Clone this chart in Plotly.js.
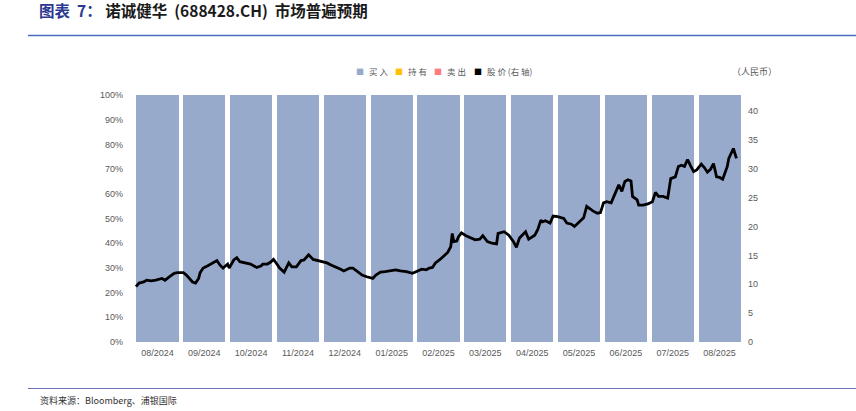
<!DOCTYPE html>
<html><head><meta charset="utf-8">
<script src="https://cdn.plot.ly/plotly-3.0.1.min.js"></script>
<style>html,body{margin:0;padding:0;background:#fff;}#chart{width:856px;height:411px;}</style>
</head><body><div id="chart"></div>
<script>
// Categories (months) and rating shares
const months = ['08/2024','09/2024','10/2024','11/2024','12/2024','01/2025','02/2025','03/2025','04/2025','05/2025','06/2025','07/2025','08/2025'];
const buyShare  = [1,1,1,1,1,1,1,1,1,1,1,1,1];
const holdShare = [0,0,0,0,0,0,0,0,0,0,0,0,0];
const sellShare = [0,0,0,0,0,0,0,0,0,0,0,0,0];

// Share price (RMB), right axis
const priceDates = ['2024-08-01','2024-08-03','2024-08-06','2024-08-08','2024-08-11','2024-08-14','2024-08-18','2024-08-20','2024-08-23','2024-08-26','2024-08-28',
'2024-09-01','2024-09-03','2024-09-07','2024-09-09','2024-09-11','2024-09-12','2024-09-14','2024-09-17','2024-09-20','2024-09-23','2024-09-25','2024-09-27','2024-09-30',
'2024-10-01','2024-10-04','2024-10-06','2024-10-08','2024-10-11','2024-10-15','2024-10-19','2024-10-22','2024-10-23','2024-10-26','2024-10-28','2024-10-30',
'2024-11-01','2024-11-03','2024-11-06','2024-11-09','2024-11-11','2024-11-14','2024-11-17','2024-11-19','2024-11-21','2024-11-22','2024-11-25','2024-11-28',
'2024-12-01','2024-12-04','2024-12-07','2024-12-11','2024-12-13','2024-12-15','2024-12-17','2024-12-19','2024-12-21','2024-12-24','2024-12-27','2024-12-30',
'2025-01-03','2025-01-05','2025-01-08','2025-01-11','2025-01-14','2025-01-18','2025-01-21','2025-01-25','2025-01-29',
'2025-02-02','2025-02-04','2025-02-07','2025-02-09','2025-02-11','2025-02-13','2025-02-16','2025-02-19','2025-02-21','2025-02-23','2025-02-24','2025-02-25','2025-02-27','2025-02-28',
'2025-03-02','2025-03-05','2025-03-08','2025-03-11','2025-03-14','2025-03-16','2025-03-19','2025-03-22','2025-03-25','2025-03-26','2025-03-30',
'2025-04-02','2025-04-05','2025-04-07','2025-04-09','2025-04-13','2025-04-15','2025-04-19','2025-04-21','2025-04-23','2025-04-24','2025-04-26','2025-04-29',
'2025-05-01','2025-05-04','2025-05-08','2025-05-10','2025-05-13','2025-05-15','2025-05-19','2025-05-21','2025-05-23','2025-05-27','2025-05-30',
'2025-06-01','2025-06-03','2025-06-05','2025-06-08','2025-06-09','2025-06-11','2025-06-13','2025-06-15','2025-06-17','2025-06-19','2025-06-21','2025-06-22','2025-06-25','2025-06-26','2025-06-29',
'2025-07-02','2025-07-05','2025-07-07','2025-07-09','2025-07-12','2025-07-15','2025-07-17','2025-07-20','2025-07-22','2025-07-24','2025-07-26','2025-07-28','2025-07-30',
'2025-08-01','2025-08-03','2025-08-06','2025-08-08','2025-08-10','2025-08-12','2025-08-14','2025-08-16','2025-08-18','2025-08-20','2025-08-23','2025-08-24','2025-08-27','2025-08-29'];
const priceValues = [9.6,10.2,10.4,10.7,10.6,10.7,11.0,10.7,11.3,11.9,12.0,
12.0,11.6,10.4,10.2,11.0,12.0,12.8,13.2,13.6,14.1,13.3,12.8,13.5,
12.8,14.2,14.6,13.9,13.7,13.5,12.9,13.2,13.5,13.5,13.8,14.3,
13.6,12.8,12.1,13.7,13.0,13.0,14.1,14.2,14.8,15.1,14.3,14.1,
13.9,13.7,13.3,12.9,12.6,12.3,12.6,12.8,12.8,12.2,11.6,11.3,
11.0,11.6,12.1,12.2,12.3,12.5,12.3,12.2,11.9,
12.3,12.6,12.5,12.8,12.9,13.7,14.3,15.1,15.5,16.5,18.8,17.4,17.5,18.2,
18.9,18.4,18.0,17.7,17.8,18.4,17.4,17.1,17.0,18.8,19.1,
18.5,17.4,16.4,18.0,19.1,17.8,18.5,19.5,21.1,20.8,21.0,20.6,
21.8,21.7,21.4,20.6,20.4,20.0,21.1,21.5,23.5,22.7,22.3,
22.4,24.1,24.3,24.1,24.7,26.0,27.2,26.1,27.8,28.1,27.9,25.2,24.6,23.7,23.7,
23.9,24.3,25.9,25.2,25.2,24.9,28.3,28.6,30.4,30.6,30.4,31.6,30.5,
29.5,29.8,30.8,30.2,29.4,29.9,30.9,28.6,28.5,28.2,30.4,31.8,33.5,31.8];

const barColor = '#98AACC', holdColor = '#FFC000', sellColor = '#FF7C80';
const tickFont = {family: 'Liberation Sans, Arial, sans-serif', size: 9, color: '#595959'};
const cjk = 'Noto Sans CJK SC, sans-serif';

const traces = [
  {type:'bar', name:'买入', x: months, y: buyShare, marker:{color: barColor}, hoverinfo:'skip'},
  {type:'bar', name:'持有', x: months, y: holdShare, marker:{color: holdColor}, hoverinfo:'skip'},
  {type:'bar', name:'卖出', x: months, y: sellShare, marker:{color: sellColor}, hoverinfo:'skip'},
  {type:'scatter', mode:'lines', name:'股价(右轴)', x: priceDates, y: priceValues, xaxis:'x2', yaxis:'y2',
   line:{color:'#000000', width:2.8}, hoverinfo:'skip'}
];

// plot area in px: x 134..743, y 95..342
const L = 134, R = 743, T = 95, B = 342, W = R - L, H = B - T;
const px = v => (v - L) / W, py = v => (B - v) / H;

const legendItems = [
  {sq: 360, tx: 367, color: barColor, label: '买 入'},
  {sq: 399, tx: 406, color: holdColor, label: '持 有'},
  {sq: 438, tx: 445, color: sellColor, label: '卖 出'},
  {sq: 478, tx: 485, color: '#000000', label: '股 价 (右 轴)'}
];
const annotations = [];
legendItems.forEach(it => {
  annotations.push({xref:'paper', yref:'paper', x: px(it.sq), y: py(71), text:'■', showarrow:false,
    xanchor:'center', yanchor:'middle', font:{family: cjk, size: 8, color: it.color}});
  annotations.push({xref:'paper', yref:'paper', x: px(it.tx), y: py(71), text: it.label, showarrow:false,
    xanchor:'left', yanchor:'middle', font:{family: cjk, size: 8.5, color:'#595959'}});
});
annotations.push({xref:'paper', yref:'paper', x: px(779), y: py(71), text:'（人民币）', showarrow:false,
  xanchor:'right', yanchor:'middle', font:{family: cjk, size: 9, color:'#595959'}});
annotations.push({xref:'paper', yref:'paper', x: px(38), y: py(400), text:'资料来源：Bloomberg、浦银国际', showarrow:false,
  xanchor:'left', yanchor:'middle', font:{family: cjk, size: 9, color:'#333333'}});
annotations.push({xref:'paper', yref:'paper', x: px(37), y: py(10), text:'<b><span style="color:#2B3990">图表  7：</span> 诺诚健华  (688428.CH)  市场普遍预期</b>', showarrow:false,
  xanchor:'left', yanchor:'middle', font:{family: cjk, size: 15.5, color:'#1a1a1a'}});

const layout = {
  width: 856, height: 411,
  margin: {l: L, r: 856 - R, t: T, b: 411 - B, pad: 0},
  paper_bgcolor:'#ffffff', plot_bgcolor:'#ffffff',
  barmode:'stack', bargap: 0.1,
  showlegend: false,
  xaxis: {type:'category', range:[-0.5, 12.5], showgrid:false, zeroline:false, showline:false, ticks:'',
    tickfont: tickFont, ticklabelstandoff: 4, fixedrange:true},
  xaxis2: {type:'date', overlaying:'x', range:['2024-07-30 17:00','2025-09-02 07:00'], visible:false, fixedrange:true},
  yaxis: {range:[0, 1], tickvals:[0,0.1,0.2,0.3,0.4,0.5,0.6,0.7,0.8,0.9,1], tickformat:'.0%', showgrid:false,
    zeroline:false, showline:false, ticks:'', tickfont: tickFont, ticklabelstandoff: 10, fixedrange:true},
  yaxis2: {range:[0, 42.77], tickvals:[0,5,10,15,20,25,30,35,40], overlaying:'y', side:'right', anchor:'x2',
    showgrid:false, zeroline:false, showline:false, ticks:'', tickfont: tickFont, ticklabelstandoff: 4, fixedrange:true},
  shapes: [
    {type:'line', xref:'paper', yref:'paper', x0: px(28), x1: px(856), y0: py(35.5), y1: py(35.5), line:{color:'#4A6CC0', width:1.3}},
    {type:'line', xref:'paper', yref:'paper', x0: px(28), x1: px(856), y0: py(388.5), y1: py(388.5), line:{color:'#6A72C0', width:1}}
  ],
  annotations: annotations
};

Plotly.newPlot('chart', traces, layout, {displayModeBar:false, staticPlot:true});
</script></body></html>
